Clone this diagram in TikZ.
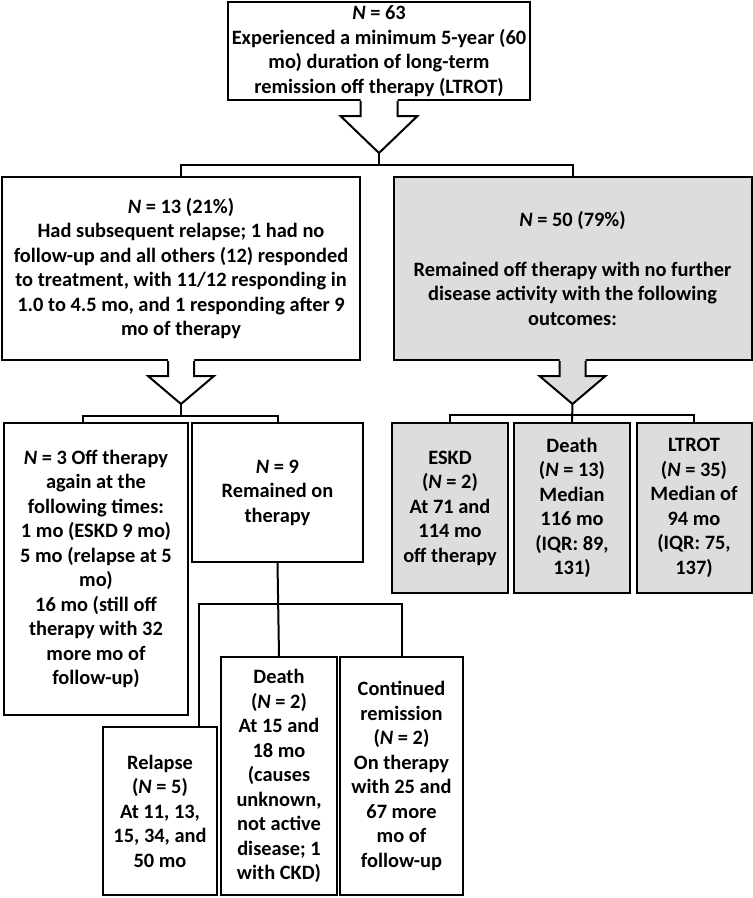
\documentclass[tikz,border=0pt]{standalone}
\usepackage{fontspec}
\setmainfont{Carlito}
\usepackage{tikz}
\usetikzlibrary{positioning, calc}

\definecolor{boxgray}{RGB}{221,221,221}

% hollow block arrow under a box: node, shaft half width, head half width, head length, fill
\newcommand{\hollowarrow}[5]{%
  \fill[#5] ($(#1.south)+(-#2,-2)$) -- ($(#1.south)+(-#2,15)$) -- ($(#1.south)+(-#3,15)$)
    -- ($(#1.south)+(0,15+#4)$) -- ($(#1.south)+(#3,15)$) -- ($(#1.south)+(#2,15)$)
    -- ($(#1.south)+(#2,-2)$) -- cycle;
  \draw[link] ($(#1.south)+(-#2,0)$) -- ($(#1.south)+(-#2,15)$) -- ($(#1.south)+(-#3,15)$)
    -- ($(#1.south)+(0,15+#4)$) -- ($(#1.south)+(#3,15)$) -- ($(#1.south)+(#2,15)$)
    -- ($(#1.south)+(#2,0)$);
  \coordinate (#1-tip) at ($(#1.south)+(0,15+#4)$);
}

\begin{document}
\begin{tikzpicture}[x=1bp, y=-1bp,
    box/.style={draw, line width=2bp, fill=white, align=center, inner sep=2bp,
      font=\bfseries\fontsize{20.4bp}{24.5bp}\selectfont},
    greybox/.style={box, fill=boxgray},
    link/.style={line width=2bp, line join=miter}]

    \useasboundingbox (0,0) rectangle (753,898);

    % first level
    \node[box, minimum width=302bp, minimum height=98bp] (top) at (379,51)
        {\textit{N} = 63\\Experienced a minimum 5-year (60\\mo) duration of long-term\\remission off therapy (LTROT)};

    % second level
    \node[box, minimum width=358bp, minimum height=183bp] (relapse) at (181,268.5)
        {\textit{N} = 13 (21\%)\\Had subsequent relapse; 1 had no\\follow-up and all others (12) responded\\to treatment, with 11/12 responding in\\1.0 to 4.5 mo, and 1 responding after 9\\mo of therapy};
    \node[greybox, minimum width=358bp, minimum height=183bp] (offtherapy) at (572.5,268.5)
        {\textit{N} = 50 (79\%)\\[24.5bp]Remained off therapy with no further\\disease activity with the following\\outcomes:};

    % third level, left
    \node[box, minimum width=184bp, minimum height=292bp] (offagain) at (96,569)
        {\textit{N} = 3 Off therapy\\again at the\\following times:\\1 mo (ESKD 9 mo)\\5 mo (relapse at 5\\mo)\\16 mo (still off\\therapy with 32\\more mo of\\follow-up)};
    \node[box, minimum width=171bp, minimum height=139bp] (ontherapy) at (277.5,492.5)
        {\textit{N} = 9\\Remained on\\therapy};

    % third level, right
    \node[greybox, minimum width=116bp, minimum height=170bp] (eskd) at (450,508)
        {ESKD\\(\textit{N} = 2)\\At 71 and\\114 mo\\off therapy};
    \node[greybox, minimum width=116bp, minimum height=170bp] (deathoff) at (572,508)
        {Death\\(\textit{N} = 13)\\Median\\116 mo\\(IQR: 89,\\131)};
    \node[greybox, minimum width=115bp, minimum height=170bp] (ltrot) at (694,508)
        {LTROT\\(\textit{N} = 35)\\Median of\\94 mo\\(IQR: 75,\\137)};

    % fourth level
    \node[box, minimum width=114bp, minimum height=168bp] (relapseon) at (160,811)
        {Relapse\\(\textit{N} = 5)\\At 11, 13,\\15, 34, and\\50 mo};
    \node[box, minimum width=116bp, minimum height=238bp] (deathon) at (279,776)
        {Death\\(\textit{N} = 2)\\At 15 and\\18 mo\\(causes\\unknown,\\not active\\disease; 1\\with CKD)};
    \node[box, minimum width=123bp, minimum height=238bp] (remission) at (401.5,776)
        {Continued\\remission\\(\textit{N} = 2)\\On therapy\\with 25 and\\67 more\\mo of\\follow-up};

    % block arrows
    \hollowarrow{top}{18.5}{38.5}{37}{white}
    \hollowarrow{relapse}{13}{33}{28}{white}
    \hollowarrow{offtherapy}{13}{33}{28}{boxgray}

    % brackets
    \coordinate (split1) at ($(top-tip)+(0,12)$);
    \draw[link] (top-tip) -- (split1);
    \draw[link] (relapse.north) |- (split1) -| (offtherapy.north);

    \coordinate (split2) at ($(relapse-tip)+(0,12)$);
    \draw[link] (relapse-tip) -- (split2);
    \draw[link] ([xshift=-13bp]offagain.north) |- (split2) -| (ontherapy.north);

    \coordinate (split3) at ($(offtherapy-tip)+(0,11)$);
    \draw[link] (offtherapy-tip) -- (deathoff.north);
    \draw[link] (eskd.north) |- (split3) -| (ltrot.north);

    \coordinate (split4) at ($(ontherapy.south)+(0,41)$);
    \draw[link] (ontherapy.south) -- (deathon.north);
    \draw[link] ([xshift=39bp]relapseon.north) |- (split4) -| (remission.north);
\end{tikzpicture}
\end{document}
